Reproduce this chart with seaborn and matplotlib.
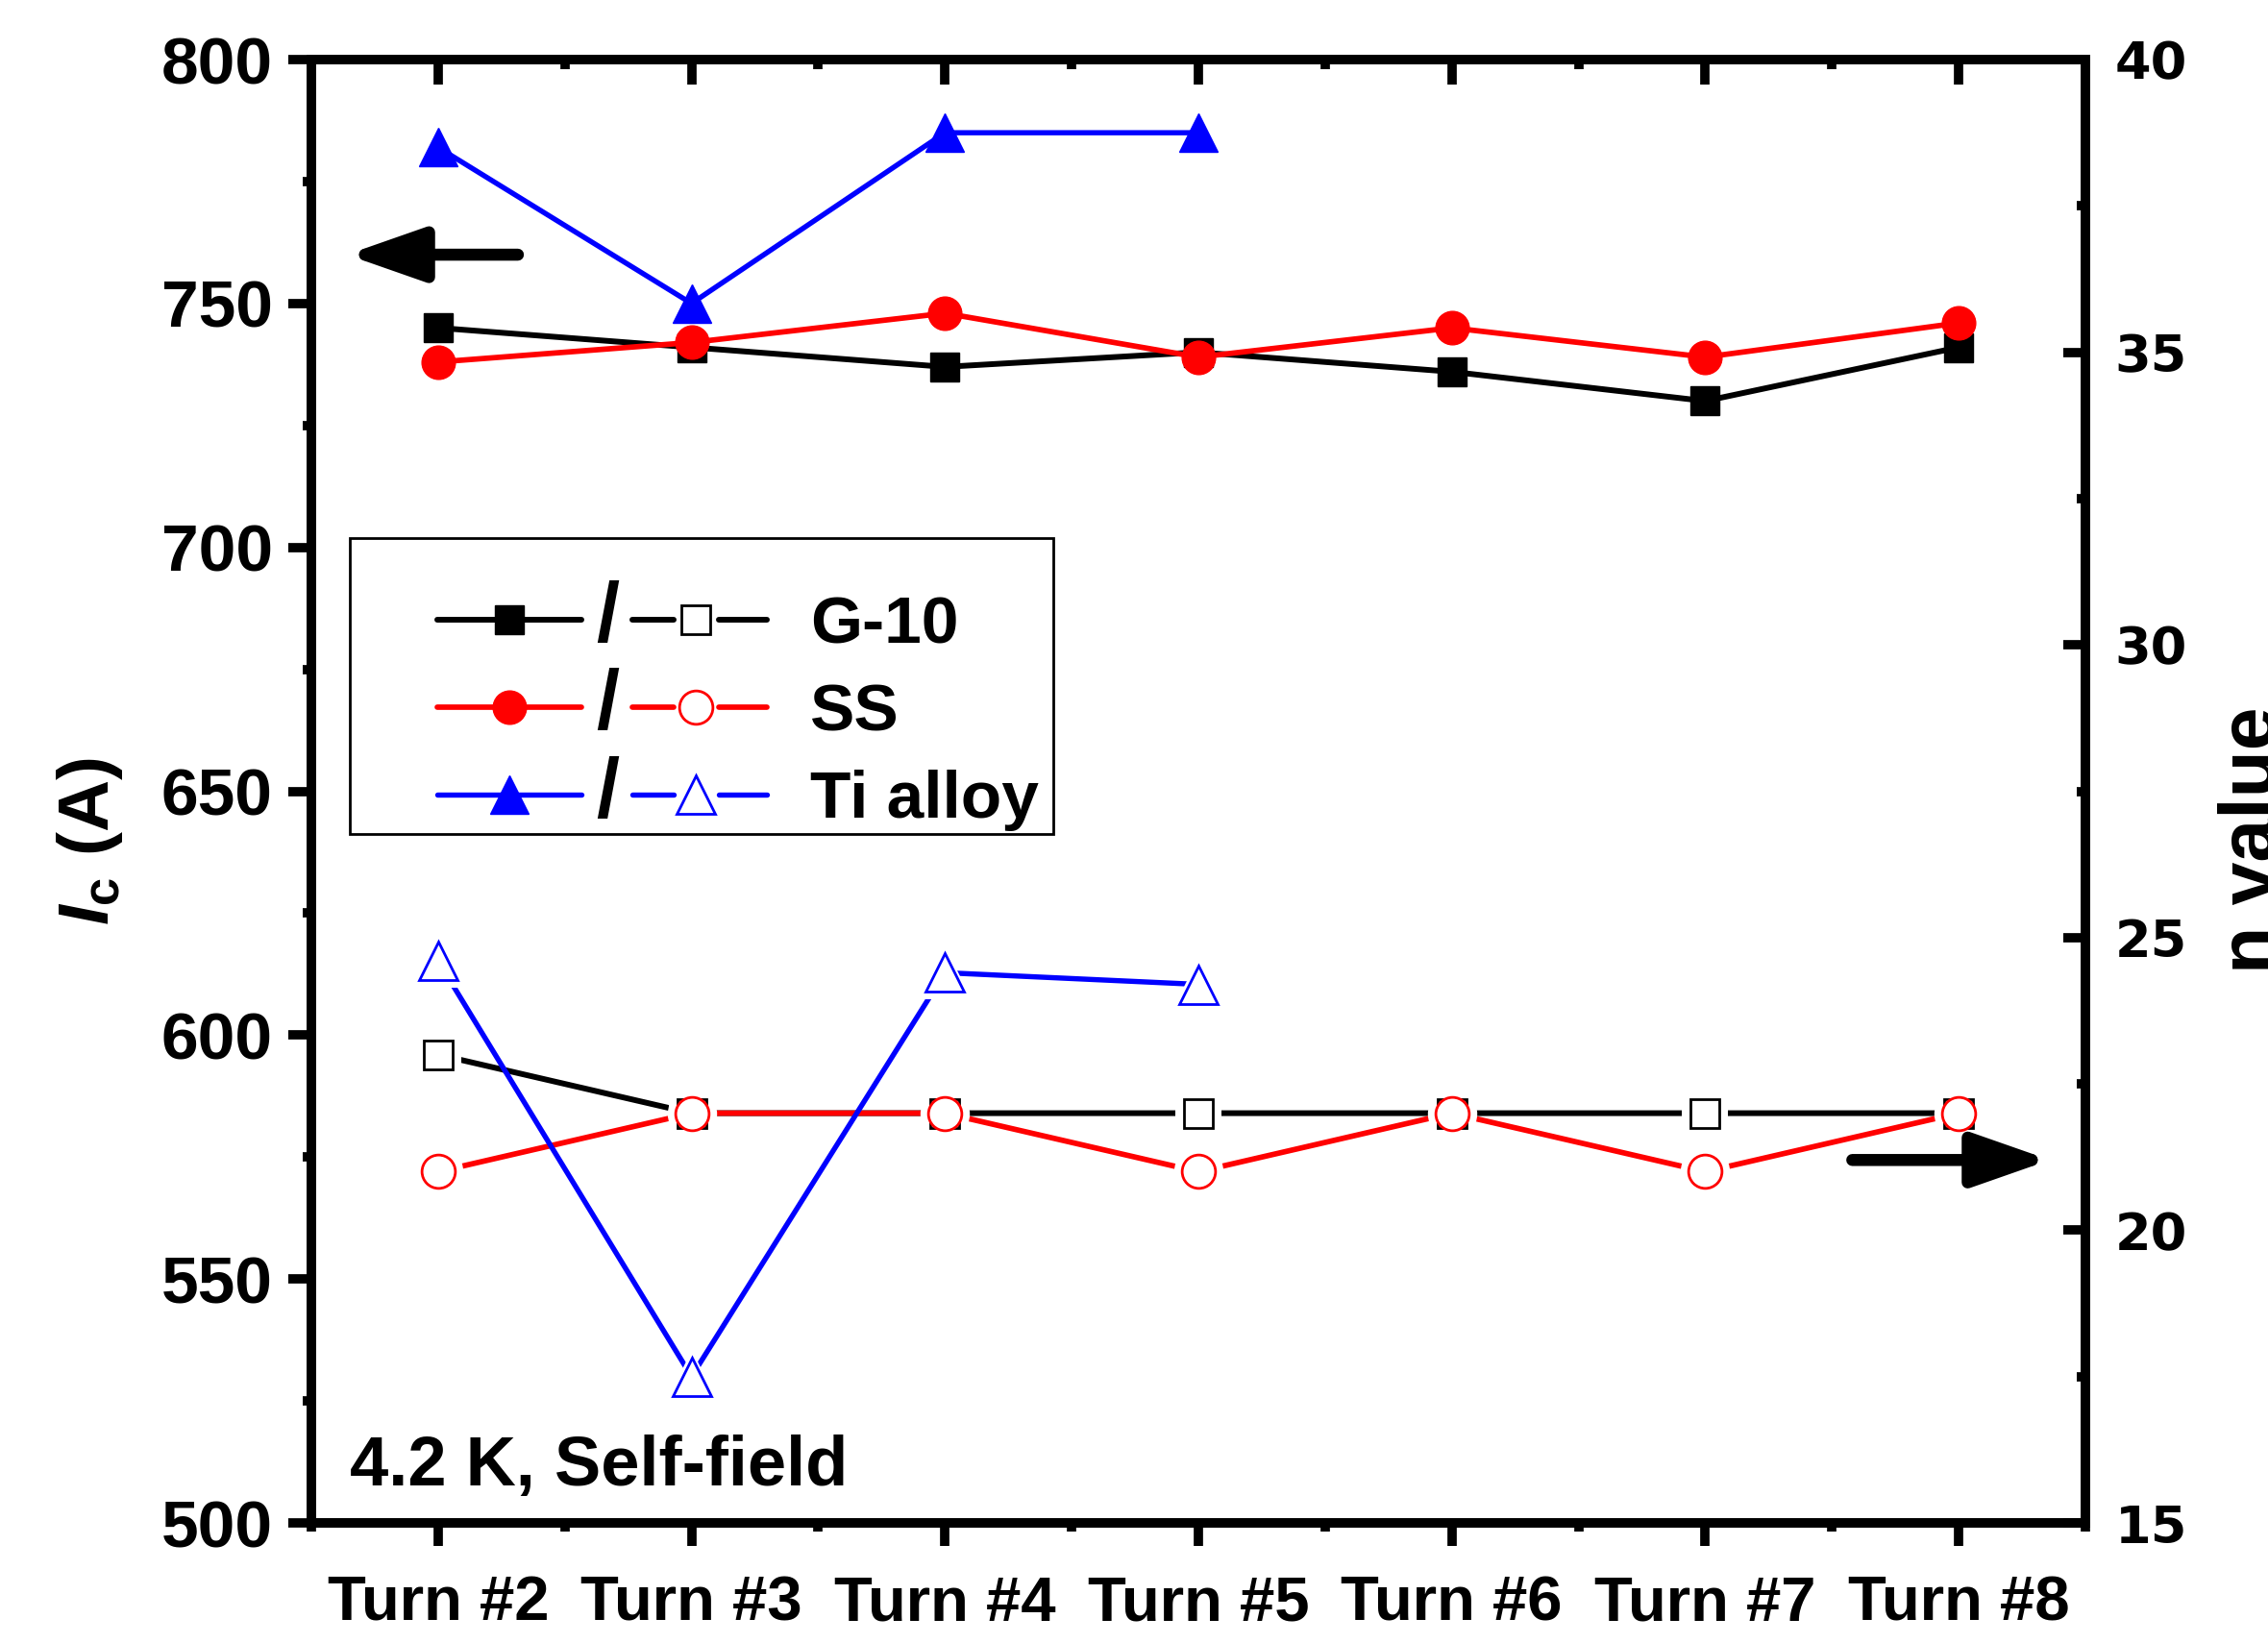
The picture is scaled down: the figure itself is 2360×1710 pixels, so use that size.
import numpy as np
import matplotlib
matplotlib.use("Agg")
import matplotlib.pyplot as plt
import seaborn as sns
from matplotlib.lines import Line2D
from matplotlib.text import Text
from matplotlib.patches import Rectangle
from matplotlib.legend_handler import HandlerBase
from matplotlib.ticker import FixedLocator, MultipleLocator

# values
turns = ["Turn #2", "Turn #3", "Turn #4", "Turn #5", "Turn #6", "Turn #7", "Turn #8"]
materials = ["G-10", "SS", "Ti alloy"]

ic_g10 = [745, 741, 737, 740, 736, 730, 741]
ic_ss = [738, 742, 748, 739, 745, 739, 746]
ic_ti = [782, 750, 785, 785]

n_g10 = [23, 22, 22, 22, 22, 22, 22]
n_ss = [21, 22, 22, 21, 22, 21, 22]
n_ti = [24.6, 17.5, 24.4, 24.2]

colors = ["#000000", "#FF0000", "#0000FF"]
markers = ["s", "o", "^"]
msize = {"s": 22, "o": 25, "^": 29}
lwidth = [4.3, 4.1, 3.9]

sns.set_style("ticks")
base = "Liberation Sans"
plt.rcParams["font.family"] = [base, "DejaVu Sans"]
plt.rcParams["font.weight"] = "bold"
plt.rcParams["mathtext.fontset"] = "custom"
plt.rcParams["mathtext.rm"] = base + ":bold"
plt.rcParams["mathtext.bf"] = base + ":bold"
plt.rcParams["mathtext.it"] = base + ":italic:bold"
plt.rcParams.update({"text.color": "black", "axes.labelcolor": "black",
                     "xtick.color": "black", "ytick.color": "black"})

W, H = 2360, 1710
fig = plt.figure(figsize=(W / 100, H / 100), dpi=100)
left, right, top, bottom = 324, 2170, 62, 1585
ax = fig.add_axes([left / W, 1 - bottom / H, (right - left) / W, (bottom - top) / H])
ax2 = ax.twinx()

pos = np.arange(len(turns))

# Ic (filled markers, left axis)
filled_lines = []
for vals, c, m, lw in zip([ic_g10, ic_ss, ic_ti], colors, markers, lwidth):
    sns.lineplot(x=pos[:len(vals)], y=vals, ax=ax, color=c, linewidth=lw,
                 marker=m, markersize=msize[m], markerfacecolor=c,
                 markeredgecolor=c, markeredgewidth=1, zorder=3)
    filled_lines.append(ax.lines[-1])

# n value (open markers, right axis), line stops short of the marker
hollow_lines = []
for vals, c, m, lw in zip([n_g10, n_ss, n_ti], colors, markers, lwidth):
    x = pos[:len(vals)]
    sns.lineplot(x=x, y=vals, ax=ax2, color=c, linewidth=lw, zorder=2)
    ax2.plot(x, vals, ls="none", marker=m, markersize=msize[m] + 12,
             mfc="white", mec="white", mew=0, zorder=3)
    ax2.plot(x, vals, ls="none", marker=m, markersize=msize[m],
             mfc="white", mec=c, mew=2, zorder=4)
    hollow_lines.append(ax2.lines[-1])

ax.set_xlim(-0.5, 6.5)
ax.set_ylim(500, 800)
ax2.set_ylim(15, 40)
ax.set_xlabel("")
ax.set_ylabel("")
ax2.set_ylabel("")

ax.set_xticks(pos, labels=turns, fontsize=47)
ax.xaxis.set_minor_locator(FixedLocator(np.arange(-0.5, 7, 1)))
ax.set_yticks(np.arange(500, 801, 50))
ax.yaxis.set_minor_locator(MultipleLocator(25))
ax.tick_params(which="major", direction="out", length=17, width=7)
ax.tick_params(which="minor", direction="out", length=6.5, width=7)
ax.tick_params(axis="y", labelsize=50, pad=12)
ax.tick_params(axis="x", pad=22)

ax2.set_yticks(np.arange(15, 41, 5), labels=[str(v) for v in range(15, 41, 5)],
               fontfamily="DejaVu Sans", fontweight="bold", fontsize=39)
ax2.yaxis.set_minor_locator(MultipleLocator(2.5))
ax2.tick_params(axis="y", which="major", direction="in", length=16.5, width=7, pad=22)
ax2.tick_params(axis="y", which="minor", direction="in", length=6.5, width=7)

sec = ax.secondary_xaxis("top")
sec.set_xticks(pos)
sec.xaxis.set_minor_locator(FixedLocator(np.arange(-0.5, 7, 1)))
sec.tick_params(which="major", direction="in", length=19, width=7, labeltop=False)
sec.tick_params(which="minor", direction="in", length=7.5, width=7)
sec.spines["top"].set_linewidth(7)

for a in (ax, ax2):
    for sp in a.spines.values():
        sp.set_linewidth(7)
        sp.set_color("black")


class PairHandler(HandlerBase):
    def create_artists(self, legend, orig_handle, xdescent, ydescent,
                       width, height, fontsize, trans):
        full, hollow = orig_handle
        c = full.get_color()
        m = full.get_marker()
        lw = full.get_linewidth()
        y = -ydescent + height / 2

        def X(f):
            return -xdescent + f * width

        gap = 17
        arts = [
            Line2D([X(0.152), X(0.524)], [y, y], color=c, lw=lw),
            Line2D([X(0.338)], [y], ls="none", marker=m, ms=full.get_markersize(),
                   mfc=c, mec=c),
            Text(X(0.591), y, "/", fontsize=fontsize * 1.25, fontweight="bold",
                 ha="center", va="center"),
            Line2D([X(0.654), X(0.818) - gap], [y, y], color=c, lw=lw),
            Line2D([X(0.818) + gap, X(1.0)], [y, y], color=c, lw=lw),
            Line2D([X(0.818)], [y], ls="none", marker=m, ms=hollow.get_markersize(),
                   mfc="white", mec=c, mew=2),
        ]
        for a in arts:
            a.set_transform(trans)
        return arts


leg = ax2.legend(handles=list(zip(filled_lines, hollow_lines)), labels=materials,
                 handler_map={tuple: PairHandler()}, loc="upper left",
                 bbox_to_anchor=(364 / W, 1 - 590 / H), bbox_transform=fig.transFigure,
                 borderaxespad=0, frameon=False, fontsize=50, handlelength=5.83,
                 handletextpad=0.65, borderpad=0.42, labelspacing=0.39)
fig.add_artist(Rectangle((364 / W, 1 - 868 / H), (1096 - 364) / W, (868 - 560) / H,
                         transform=fig.transFigure, fill=False, lw=2, ec="black"))

# direction arrows
arrow = dict(arrowstyle="-|>,head_length=0.8,head_width=0.28", mutation_scale=60,
             lw=9, color="black", shrinkA=0, shrinkB=0)
ax.annotate("", xy=(-0.36, 760), xytext=(0.315, 760), arrowprops=arrow)
ax2.annotate("", xy=(6.36, 21.2), xytext=(5.58, 21.2), arrowprops=arrow)

fig.text(364 / W, 1 - 1546 / H, "4.2 K, Self-field", fontsize=52,
         ha="left", va="baseline")
fig.text(93 / W, 0.488, r"$I_{\mathrm{c}}$ (A)", rotation=90, ha="center",
         va="center", fontsize=54)
fig.text(2308 / W, 0.489, "n value", rotation=90, ha="left", va="center",
         fontsize=58)

fig.savefig("out.png", dpi=100)
